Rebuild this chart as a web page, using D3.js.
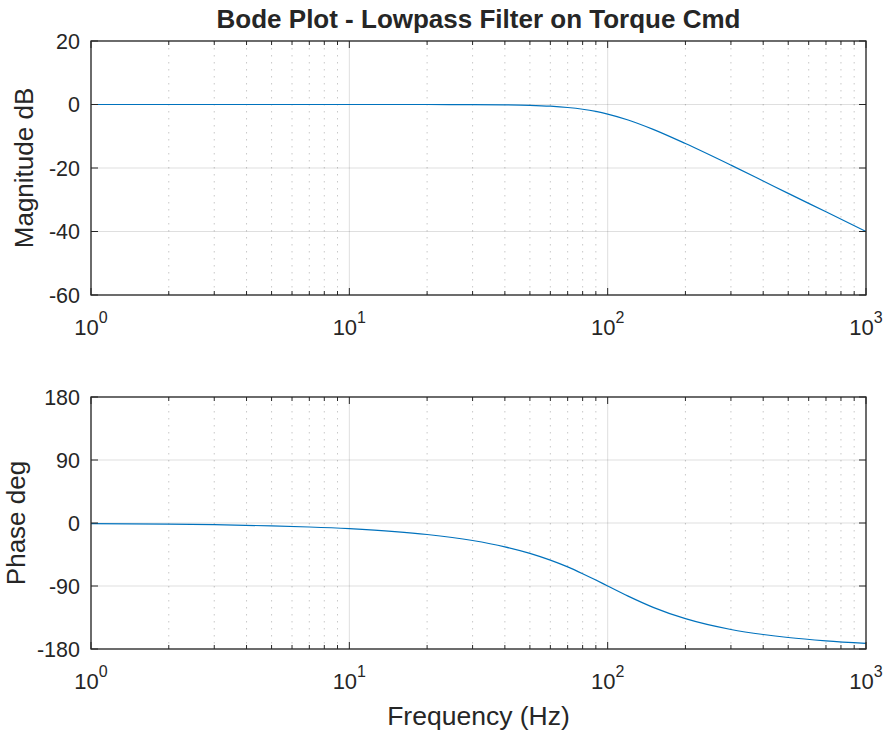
<!DOCTYPE html>
<html lang="en">
<head>
<meta charset="UTF-8">
<title>Bode Plot - Lowpass Filter on Torque Cmd</title>
<script src="https://d3js.org/d3.v7.min.js"></script>
<style>
  body { margin: 0; background: #fff; }
  svg text { font-family: "Liberation Sans", Arial, Helvetica, sans-serif; fill: #262626; }
  .line { fill: none; stroke: #0072BD; stroke-width: 1.2px; }
</style>
</head>
<body>
<div id="chart"></div>
<script>

// values (2nd order lowpass, corner ~100 Hz)
var freq     = [1, 2, 3, 5, 7, 10, 15, 20, 30, 40, 50, 60, 70, 80, 90, 100, 120, 150, 200, 300, 400, 500, 700, 1000];
var magDb    = [0, 0, 0, 0, 0, 0, -0.002, -0.007, -0.035, -0.11, -0.26, -0.53, -0.94, -1.49, -2.19, -3.01, -4.87, -7.83, -12.3, -19.1, -24.1, -28.0, -33.8, -40.0];
var phaseDeg = [-0.8, -1.6, -2.4, -4.1, -5.7, -8.1, -12.2, -16.4, -25.0, -34.0, -43.3, -53.0, -62.7, -72.4, -81.5, -90, -104.5, -120.5, -136.7, -152.1, -159.3, -163.6, -168.3, -171.9];

var xDecades  = [1, 10, 100, 1000];
var xExps     = ["0", "1", "2", "3"];
var magTicks  = [-60, -40, -20, 0, 20];
var phTicks   = [-180, -90, 0, 90, 180];

var width = 887, height = 736;
var left = 91, right = 866;

var svg = d3.select("#chart").append("svg")
    .attr("width", width)
    .attr("height", height);

var x = d3.scaleLog().domain([1, 1000]).range([left, right]);
var minor = x.ticks().filter(function(d) { return xDecades.indexOf(d) < 0; });

function panel(top, bottom, yDomain, yTicks, values, label, labelX) {
  var y = d3.scaleLinear().domain(yDomain).range([bottom, top]);
  var g = svg.append("g");

  // minor x grid (dotted)
  g.selectAll(".mgrid").data(minor).enter().append("line")
      .attr("x1", x).attr("x2", x)
      .attr("y1", top).attr("y2", bottom)
      .attr("stroke", "#262626").attr("stroke-opacity", 0.25)
      .attr("stroke-dasharray", "1.5,5.5");

  // major grids
  g.selectAll(".xgrid").data(xDecades).enter().append("line")
      .attr("x1", x).attr("x2", x)
      .attr("y1", top).attr("y2", bottom)
      .attr("stroke", "#262626").attr("stroke-opacity", 0.15);
  g.selectAll(".ygrid").data(yTicks).enter().append("line")
      .attr("x1", left).attr("x2", right)
      .attr("y1", y).attr("y2", y)
      .attr("stroke", "#262626").attr("stroke-opacity", 0.15);

  // data line
  var line = d3.line()
      .curve(d3.curveMonotoneX)
      .x(function(d, i) { return x(freq[i]); })
      .y(function(d) { return y(d); });
  g.append("path").datum(values).attr("class", "line").attr("d", line);

  // ticks (inward, mirrored on top/right)
  var tk = "#262626";
  g.selectAll(".tb").data(minor).enter().append("line")
      .attr("x1", x).attr("x2", x).attr("y1", bottom).attr("y2", bottom - 4).attr("stroke", tk);
  g.selectAll(".tt").data(minor).enter().append("line")
      .attr("x1", x).attr("x2", x).attr("y1", top).attr("y2", top + 4).attr("stroke", tk);
  g.selectAll(".tb2").data(xDecades).enter().append("line")
      .attr("x1", x).attr("x2", x).attr("y1", bottom).attr("y2", bottom - 7).attr("stroke", tk);
  g.selectAll(".tt2").data(xDecades).enter().append("line")
      .attr("x1", x).attr("x2", x).attr("y1", top).attr("y2", top + 7).attr("stroke", tk);
  g.selectAll(".tl").data(yTicks).enter().append("line")
      .attr("x1", left).attr("x2", left + 7).attr("y1", y).attr("y2", y).attr("stroke", tk);
  g.selectAll(".tr").data(yTicks).enter().append("line")
      .attr("x1", right).attr("x2", right - 7).attr("y1", y).attr("y2", y).attr("stroke", tk);

  // box
  g.append("rect")
      .attr("x", left).attr("y", top)
      .attr("width", right - left).attr("height", bottom - top)
      .attr("fill", "none").attr("stroke", tk).attr("stroke-width", 1.3);

  // y tick labels
  g.selectAll(".yl").data(yTicks).enter().append("text")
      .attr("x", left - 11).attr("y", y).attr("dy", "0.36em")
      .attr("text-anchor", "end").style("font-size", "21.5px")
      .text(function(d) { return d; });

  // x tick labels 10^n
  var xl = g.selectAll(".xl").data(xDecades).enter().append("text")
      .attr("x", function(d) { return x(d); })
      .attr("y", bottom + 40)
      .attr("text-anchor", "middle").style("font-size", "22px");
  xl.append("tspan").text("10");
  xl.append("tspan").attr("dy", -12).style("font-size", "16px")
      .text(function(d, i) { return xExps[i]; });

  // y label
  svg.append("text")
      .attr("transform", "translate(" + labelX + "," + ((top + bottom) / 2) + ") rotate(-90)")
      .attr("text-anchor", "middle").style("font-size", "26px")
      .text(label);
}

panel(41, 295, [-60, 20], magTicks, magDb, "Magnitude dB", 33);
panel(397, 649, [-180, 180], phTicks, phaseDeg, "Phase deg", 25);

svg.append("text")
    .attr("x", (left + right) / 2).attr("y", 28)
    .attr("text-anchor", "middle")
    .style("font-size", "26px").style("font-weight", "bold")
    .text("Bode Plot - Lowpass Filter on Torque Cmd");

svg.append("text")
    .attr("x", (left + right) / 2).attr("y", 725)
    .attr("text-anchor", "middle").style("font-size", "26.5px")
    .text("Frequency (Hz)");

</script>
</body>
</html>
